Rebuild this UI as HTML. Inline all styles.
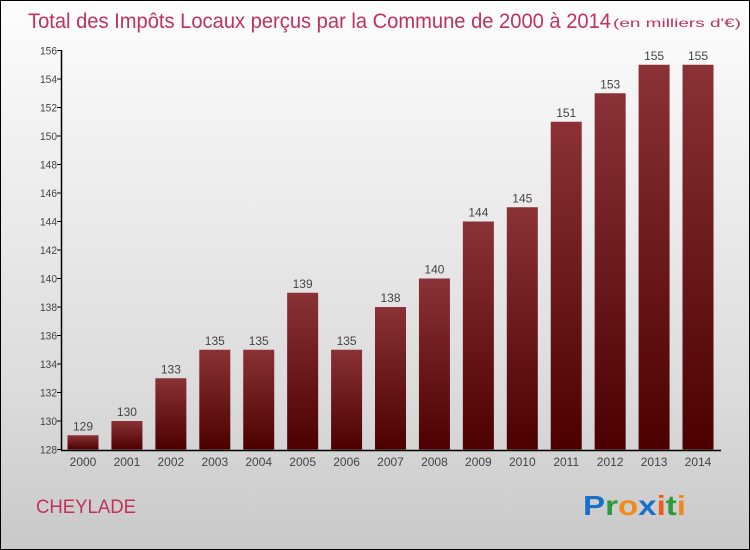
<!DOCTYPE html>
<html><head><meta charset="utf-8"><style>
body{margin:0;width:750px;height:550px;overflow:hidden;font-family:"Liberation Sans",sans-serif}
#wrap{position:absolute;left:0;top:0;width:748px;height:548px;border:1px solid #000;background:linear-gradient(#fdfdfd,#f3f3f3 20%,#dcdcdc 70%,#c9c9c9)}
</style></head><body>
<div id="wrap">
<svg id="svg" width="750" height="550" style="position:absolute;left:-1px;top:-1px">
<defs><linearGradient id="bg" x1="0" y1="0" x2="0" y2="1"><stop offset="0" stop-color="#8a3236"/><stop offset="1" stop-color="#4d0000"/></linearGradient></defs>
<text x="28" y="28" font-size="21" fill="#c0315e" textLength="583" lengthAdjust="spacingAndGlyphs">Total des Impôts Locaux perçus par la Commune de 2000 à 2014</text>
<text x="613" y="27" font-size="12" fill="#c0315e" textLength="128" lengthAdjust="spacingAndGlyphs">(en milliers d'€)</text>
<g id="plot"></g>
<text x="36" y="513" font-size="19" fill="#c0315e" textLength="100" lengthAdjust="spacingAndGlyphs">CHEYLADE</text>
<text x="583" y="515" font-size="28" font-weight="bold" textLength="103" lengthAdjust="spacingAndGlyphs"><tspan fill="#1a6fc9">P</tspan><tspan fill="#2a9a3a">r</tspan><tspan fill="#f08a1a">o</tspan><tspan fill="#1a6fc9">x</tspan><tspan fill="#f05a1a">i</tspan><tspan fill="#2a9a3a">t</tspan><tspan fill="#f08a1a">i</tspan></text>
</svg></div>
<script>
const years=["2000","2001","2002","2003","2004","2005","2006","2007","2008","2009","2010","2011","2012","2013","2014"];
const values=[129,130,133,135,135,139,135,138,140,144,145,151,153,155,155];
const yTicks=[128,130,132,134,136,138,140,142,144,146,148,150,152,154,156];
const NS="http://www.w3.org/2000/svg";
const g=document.getElementById('plot');
const y=v=>449.5-(v-128)*14.25;
const x=i=>83+i*43.93;
function el(t,a,txt){const e=document.createElementNS(NS,t);for(const k in a)e.setAttribute(k,a[k]);if(txt!=null)e.textContent=txt;g.appendChild(e);return e;}
yTicks.forEach(t=>{
 const l=el('line',{x1:57,x2:62,y1:y(t),y2:y(t),stroke:'#000'});
 
 
 const tx=el('text',{x:57,y:y(t)+4,'font-size':11,fill:'#444','text-anchor':'end',textLength:17,lengthAdjust:'spacingAndGlyphs'},t);
 
 
});
values.forEach((v,i)=>{
 const b=el('rect',{x:x(i)-15.5,y:y(v),width:31,height:y(128)-y(v),fill:'url(#bg)'});
 
 
 const t=el('text',{x:x(i),y:y(v)-5,'font-size':12,fill:'#444','text-anchor':'middle'},v);
 
 
 const xl=el('text',{x:x(i),y:466,'font-size':12,fill:'#444','text-anchor':'middle'},years[i]);
 
 
});
const ya=el('line',{x1:61.5,x2:61.5,y1:50,y2:450.5,stroke:'#000','stroke-width':1.5});


const xa=el('line',{x1:61,x2:721,y1:450.5,y2:450.5,stroke:'#000','stroke-width':1.5});


</script>
</body></html>
